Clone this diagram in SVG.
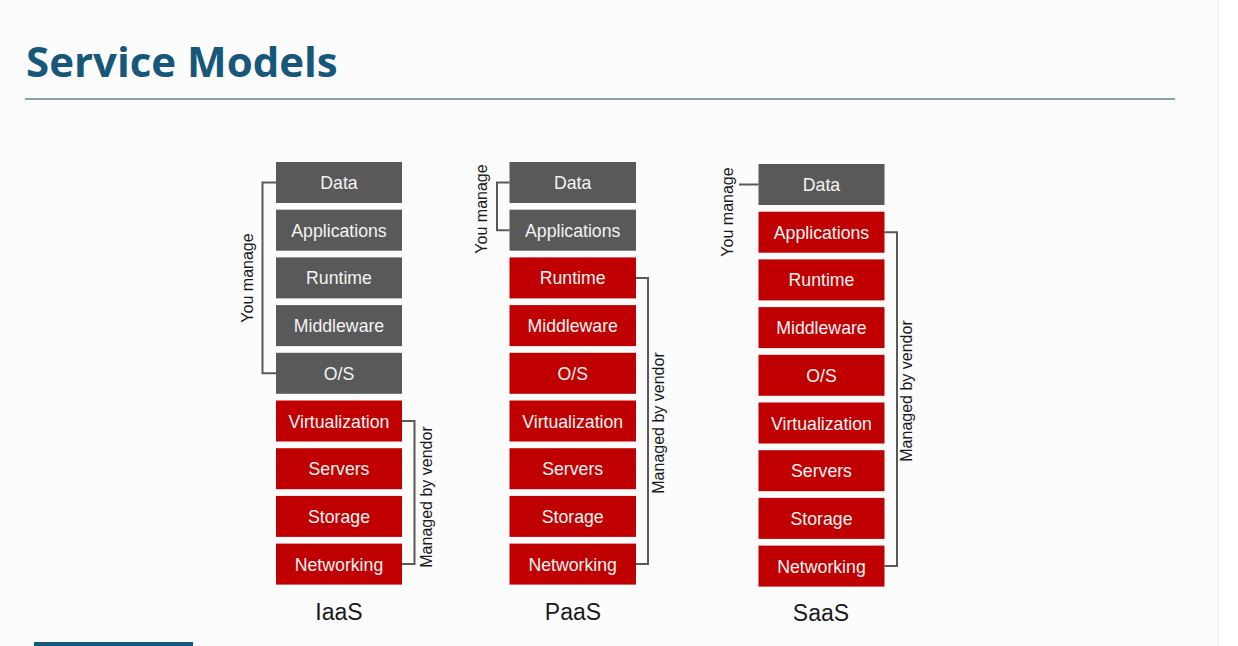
<svg xmlns="http://www.w3.org/2000/svg" width="1238" height="646" viewBox="0 0 1238 646">
<style>
.g{fill:#595959}
.r{fill:#c00000}
.bt{font-family:"Liberation Sans",Arial,sans-serif;font-size:17.7px;fill:#f4f4f4;text-anchor:middle}
.lt{font-family:"Liberation Sans",Arial,sans-serif;font-size:16px;fill:#1a1a1a;text-anchor:middle}
.ct{font-family:"Liberation Sans",Arial,sans-serif;font-size:23px;fill:#1a1a1a;text-anchor:middle}
.br{fill:none;stroke:#595959;stroke-width:2}
</style>
<rect width="1238" height="646" fill="#fcfcfc"/>
<rect x="1218" y="0" width="20" height="646" fill="#ffffff"/>
<line x1="1218" y1="0" x2="1218" y2="646" stroke="#e6eaef" stroke-width="1"/>
<g id="title">
<text x="26" y="77" font-family="'Open Sans',sans-serif" font-weight="bold" font-size="42" fill="#17587a">Service Models</text>
<line x1="25" y1="99" x2="1175" y2="99" stroke="#8a9fa6" stroke-width="2"/>
</g>
<rect x="34" y="642" width="159" height="4" fill="#17587a"/>

<g id="iaas">
<rect class="g" x="276" y="162" width="126" height="41"/><text class="bt" x="339" y="189">Data</text>
<rect class="g" x="276" y="209.7" width="126" height="41"/><text class="bt" x="339" y="236.7">Applications</text>
<rect class="g" x="276" y="257.4" width="126" height="41"/><text class="bt" x="339" y="284.4">Runtime</text>
<rect class="g" x="276" y="305.1" width="126" height="41"/><text class="bt" x="339" y="332.1">Middleware</text>
<rect class="g" x="276" y="352.8" width="126" height="41"/><text class="bt" x="339" y="379.8">O/S</text>
<rect class="r" x="276" y="400.5" width="126" height="41"/><text class="bt" x="339" y="427.5">Virtualization</text>
<rect class="r" x="276" y="448.2" width="126" height="41"/><text class="bt" x="339" y="475.2">Servers</text>
<rect class="r" x="276" y="495.9" width="126" height="41"/><text class="bt" x="339" y="522.9">Storage</text>
<rect class="r" x="276" y="543.6" width="126" height="41"/><text class="bt" x="339" y="570.6">Networking</text>
<text class="ct" x="339" y="620">IaaS</text>
</g>

<g id="paas">
<rect class="g" x="509.5" y="162" width="126.5" height="41"/><text class="bt" x="572.7" y="189">Data</text>
<rect class="g" x="509.5" y="209.7" width="126.5" height="41"/><text class="bt" x="572.7" y="236.7">Applications</text>
<rect class="r" x="509.5" y="257.4" width="126.5" height="41"/><text class="bt" x="572.7" y="284.4">Runtime</text>
<rect class="r" x="509.5" y="305.1" width="126.5" height="41"/><text class="bt" x="572.7" y="332.1">Middleware</text>
<rect class="r" x="509.5" y="352.8" width="126.5" height="41"/><text class="bt" x="572.7" y="379.8">O/S</text>
<rect class="r" x="509.5" y="400.5" width="126.5" height="41"/><text class="bt" x="572.7" y="427.5">Virtualization</text>
<rect class="r" x="509.5" y="448.2" width="126.5" height="41"/><text class="bt" x="572.7" y="475.2">Servers</text>
<rect class="r" x="509.5" y="495.9" width="126.5" height="41"/><text class="bt" x="572.7" y="522.9">Storage</text>
<rect class="r" x="509.5" y="543.6" width="126.5" height="41"/><text class="bt" x="572.7" y="570.6">Networking</text>
<text class="ct" x="573" y="620">PaaS</text>
</g>

<g id="saas">
<rect class="g" x="758.5" y="164" width="126" height="41"/><text class="bt" x="821.5" y="191">Data</text>
<rect class="r" x="758.5" y="211.7" width="126" height="41"/><text class="bt" x="821.5" y="238.7">Applications</text>
<rect class="r" x="758.5" y="259.4" width="126" height="41"/><text class="bt" x="821.5" y="286.4">Runtime</text>
<rect class="r" x="758.5" y="307.1" width="126" height="41"/><text class="bt" x="821.5" y="334.1">Middleware</text>
<rect class="r" x="758.5" y="354.8" width="126" height="41"/><text class="bt" x="821.5" y="381.8">O/S</text>
<rect class="r" x="758.5" y="402.5" width="126" height="41"/><text class="bt" x="821.5" y="429.5">Virtualization</text>
<rect class="r" x="758.5" y="450.2" width="126" height="41"/><text class="bt" x="821.5" y="477.2">Servers</text>
<rect class="r" x="758.5" y="497.9" width="126" height="41"/><text class="bt" x="821.5" y="524.9">Storage</text>
<rect class="r" x="758.5" y="545.6" width="126" height="41"/><text class="bt" x="821.5" y="572.6">Networking</text>
<text class="ct" x="821" y="621">SaaS</text>
</g>

<g id="connectors">
<path class="br" d="M276,182.5 H262.5 V373.3 H276"/>
<path class="br" d="M402,421 H414.5 V564 H402"/>
<path class="br" d="M509.5,182.5 H497 V230.2 H509.5"/>
<path class="br" d="M636,278 H648 V564 H636"/>
<path class="br" d="M739,184.5 H758.5"/>
<path class="br" d="M884.5,232.2 H897 V566 H884.5"/>
</g>

<g id="labels">
<text class="lt" transform="translate(253,278) rotate(-90)">You manage</text>
<text class="lt" transform="translate(431.5,497) rotate(-90)">Managed by vendor</text>
<text class="lt" transform="translate(486.5,209) rotate(-90)">You manage</text>
<text class="lt" transform="translate(664,423) rotate(-90)">Managed by vendor</text>
<text class="lt" transform="translate(733,212) rotate(-90)">You manage</text>
<text class="lt" transform="translate(912,391) rotate(-90)">Managed by vendor</text>
</g>
</svg>
